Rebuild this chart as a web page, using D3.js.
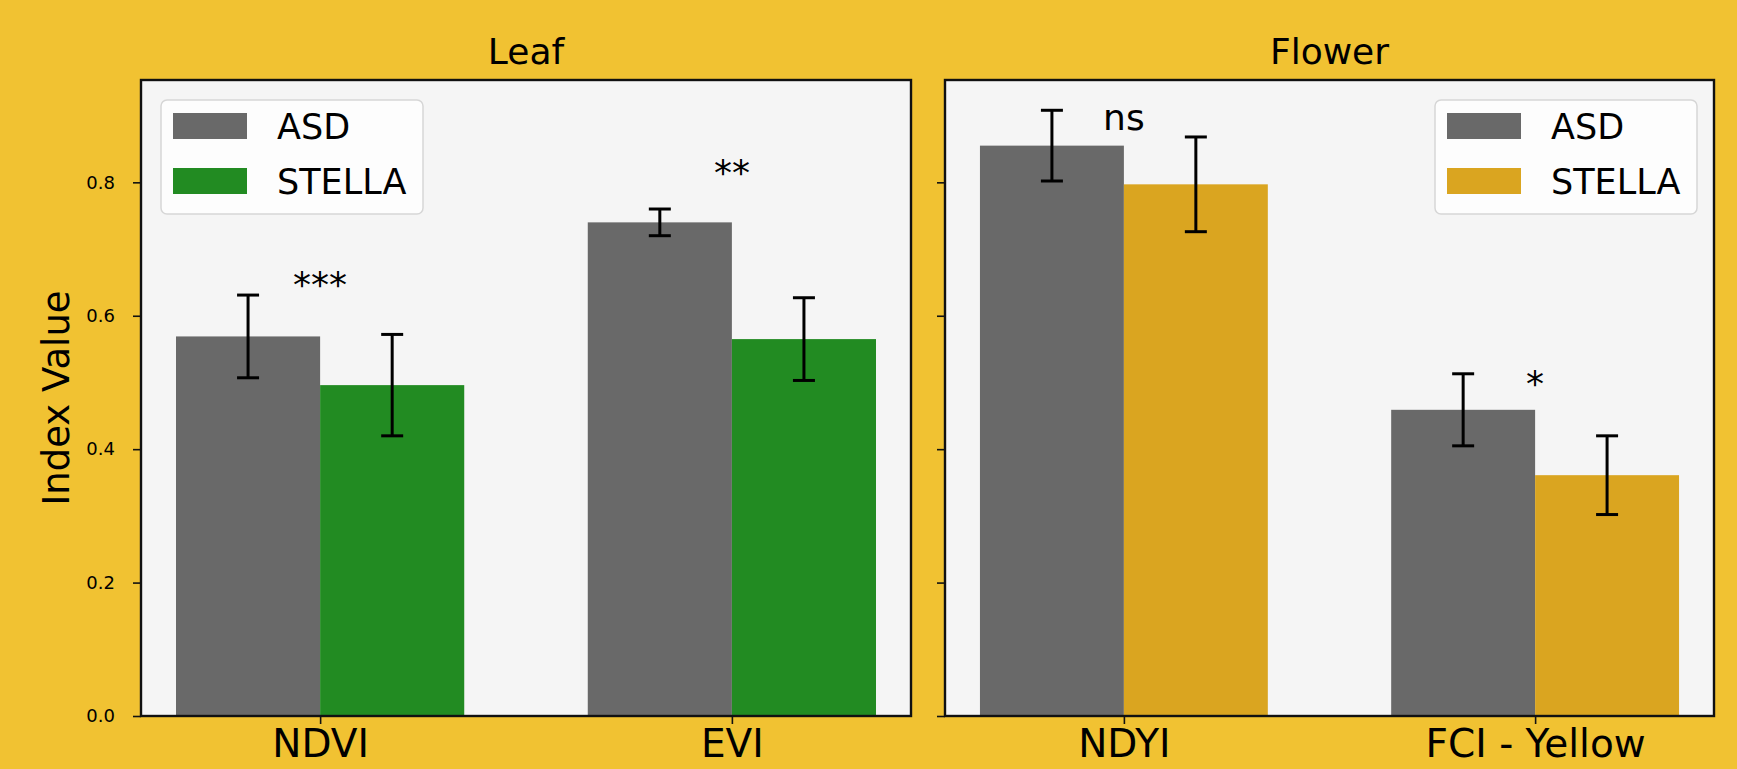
<!DOCTYPE html>
<html>
<head>
<meta charset="utf-8">
<script src="https://cdn.jsdelivr.net/npm/d3@7"></script>
<style>
  html, body { margin: 0; padding: 0; background: #F1C232; }
  svg text { font-family: 'DejaVu Sans', sans-serif; fill: #000; }
</style>
</head>
<body>
<div id="chart"></div>
<script>
// Data
const leafCategories = ['NDVI', 'EVI'];
const leafAsd = [0.569, 0.740];
const leafAsdErr = [0.062, 0.020];
const leafStella = [0.496, 0.565];
const leafStellaErr = [0.076, 0.062];
const leafSig = ['***', '**'];
const leafSigY = [0.628, 0.796];

const flowerCategories = ['NDYI', 'FCI - Yellow'];
const flowerAsd = [0.855, 0.459];
const flowerAsdErr = [0.053, 0.054];
const flowerStella = [0.797, 0.361];
const flowerStellaErr = [0.071, 0.059];
const flowerSig = ['ns', '*'];
const flowerSigY = [0.878, 0.479];

const yTicks = [0.0, 0.2, 0.4, 0.6, 0.8];
const seriesNames = ['ASD', 'STELLA'];

const W = 1737, H = 769;
const plotTop = 80, plotBottom = 716;
const barW = 0.35;

const svg = d3.select('#chart').append('svg')
  .attr('width', W).attr('height', H)
  .attr('viewBox', [0, 0, W, H]);

svg.append('rect').attr('width', W).attr('height', H).attr('fill', '#F1C232');

// shared y (matplotlib autoscale: max of bar + err, 5% margin)
const yMax = d3.max([...leafAsd.map((v, i) => v + leafAsdErr[i]),
  ...leafStella.map((v, i) => v + leafStellaErr[i]),
  ...flowerAsd.map((v, i) => v + flowerAsdErr[i]),
  ...flowerStella.map((v, i) => v + flowerStellaErr[i])]) * 1.05;
const y = d3.scaleLinear().domain([0, yMax]).range([plotBottom, plotTop]);

const panels = [
  { title: 'Leaf', left: 141, right: 911, cats: leafCategories, asd: leafAsd, asdErr: leafAsdErr,
    st: leafStella, stErr: leafStellaErr, sig: leafSig, sigY: leafSigY, color: '#228B22',
    legendX: 161, showLabels: true },
  { title: 'Flower', left: 945, right: 1714, cats: flowerCategories, asd: flowerAsd, asdErr: flowerAsdErr,
    st: flowerStella, stErr: flowerStellaErr, sig: flowerSig, sigY: flowerSigY, color: '#DAA520',
    legendX: 1435, showLabels: false }
];

panels.forEach(p => {
  const pad = 0.05 * (p.cats.length - 1 + 2 * barW);
  const x = d3.scaleLinear()
    .domain([-barW - pad, p.cats.length - 1 + barW + pad])
    .range([p.left, p.right]);

  const g = svg.append('g');

  // axes background
  g.append('rect')
    .attr('x', p.left).attr('y', plotTop)
    .attr('width', p.right - p.left).attr('height', plotBottom - plotTop)
    .attr('fill', '#F5F5F5');

  const rows = p.cats.map((c, i) => ({ i, c,
    bars: [
      { v: p.asd[i], e: p.asdErr[i], off: -barW, fill: '#696969' },
      { v: p.st[i], e: p.stErr[i], off: 0, fill: p.color }
    ] }));

  const grp = g.selectAll('g.cat').data(rows).join('g').attr('class', 'cat');

  grp.selectAll('rect.bar').data(d => d.bars.map(b => ({ ...b, i: d.i })))
    .join('rect').attr('class', 'bar')
    .attr('x', d => x(d.i + d.off))
    .attr('width', d => x(d.i + d.off + barW) - x(d.i + d.off))
    .attr('y', d => y(d.v))
    .attr('height', d => y(0) - y(d.v))
    .attr('fill', d => d.fill);

  // error bars
  const cap = 11;
  const eb = grp.selectAll('g.err').data(d => d.bars.map(b => ({ ...b, i: d.i })))
    .join('g').attr('class', 'err')
    .attr('stroke', '#000').attr('stroke-width', 3);
  eb.append('line')
    .attr('x1', d => x(d.i + d.off + barW / 2)).attr('x2', d => x(d.i + d.off + barW / 2))
    .attr('y1', d => y(d.v - d.e)).attr('y2', d => y(d.v + d.e));
  eb.append('line')
    .attr('x1', d => x(d.i + d.off + barW / 2) - cap).attr('x2', d => x(d.i + d.off + barW / 2) + cap)
    .attr('y1', d => y(d.v + d.e)).attr('y2', d => y(d.v + d.e));
  eb.append('line')
    .attr('x1', d => x(d.i + d.off + barW / 2) - cap).attr('x2', d => x(d.i + d.off + barW / 2) + cap)
    .attr('y1', d => y(d.v - d.e)).attr('y2', d => y(d.v - d.e));

  // significance labels
  grp.append('text')
    .attr('x', d => x(d.i))
    .attr('y', d => y(p.sigY[d.i]))
    .attr('text-anchor', 'middle')
    .attr('font-size', 36)
    .text(d => p.sig[d.i]);

  // frame
  g.append('rect')
    .attr('x', p.left).attr('y', plotTop)
    .attr('width', p.right - p.left).attr('height', plotBottom - plotTop)
    .attr('fill', 'none').attr('stroke', '#111').attr('stroke-width', 2.4);

  // x axis
  const xAxis = g.append('g').attr('transform', `translate(0,${plotBottom})`)
    .call(d3.axisBottom(x).tickValues(p.cats.map((c, i) => i))
      .tickFormat(i => p.cats[i]).tickSize(8).tickPadding(4));
  xAxis.select('.domain').remove();
  xAxis.selectAll('line').attr('stroke', '#111').attr('stroke-width', 1.6);
  xAxis.selectAll('text').attr('font-size', 39).attr('dy', '0.74em')
    .attr('font-family', "'DejaVu Sans', sans-serif").attr('fill', '#000');

  // y axis
  const yAxis = g.append('g').attr('transform', `translate(${p.left},0)`)
    .call(d3.axisLeft(y).tickValues(yTicks)
      .tickFormat(p.showLabels ? d3.format('.1f') : () => '').tickSize(8).tickPadding(18));
  yAxis.select('.domain').remove();
  yAxis.selectAll('line').attr('stroke', '#111').attr('stroke-width', 1.6);
  yAxis.selectAll('text').attr('font-size', 18)
    .attr('font-family', "'DejaVu Sans', sans-serif").attr('fill', '#222');

  // title
  g.append('text')
    .attr('x', (p.left + p.right) / 2).attr('y', 64)
    .attr('text-anchor', 'middle').attr('font-size', 36)
    .text(p.title);

  // legend
  const lg = g.append('g').attr('transform', `translate(${p.legendX},100)`);
  lg.append('rect').attr('width', 262).attr('height', 114).attr('rx', 6)
    .attr('fill', 'rgba(255,255,255,0.8)').attr('stroke', '#d6d6d6').attr('stroke-width', 1.5);
  const items = lg.selectAll('g.item').data(seriesNames).join('g').attr('class', 'item')
    .attr('transform', (d, i) => `translate(12,${13 + i * 55})`);
  items.append('rect').attr('width', 74).attr('height', 26)
    .attr('fill', (d, i) => i === 0 ? '#696969' : p.color);
  items.append('text').attr('x', 104).attr('y', 13 + 0.3645 * 35)
    .attr('font-size', 35).text(d => d);
});

// y label
svg.append('text')
  .attr('transform', `translate(69,${(plotTop + plotBottom) / 2}) rotate(-90)`)
  .attr('text-anchor', 'middle').attr('font-size', 37)
  .text('Index Value');
</script>
</body>
</html>
